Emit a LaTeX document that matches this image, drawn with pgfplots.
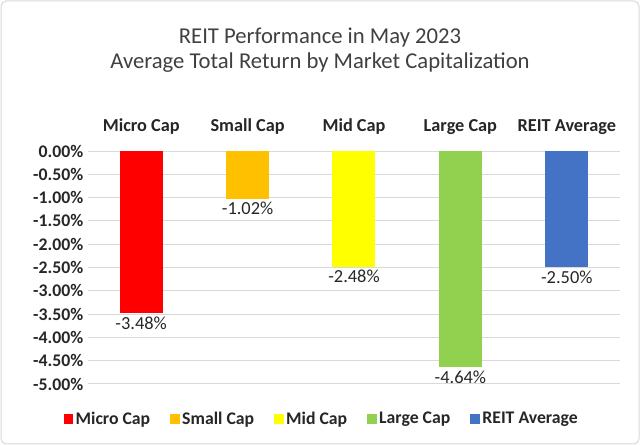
\documentclass[border=0pt]{standalone}
\usepackage{fontspec}
\setmainfont{Carlito}
\usepackage{pgfplots}
\pgfplotsset{compat=1.18}
\definecolor{txt}{HTML}{404040}
\definecolor{tick}{HTML}{262626}
\definecolor{gridc}{HTML}{D9D9D9}
\definecolor{cMicro}{HTML}{FF0000}
\definecolor{cSmall}{HTML}{FFC000}
\definecolor{cMid}{HTML}{FFFF00}
\definecolor{cLarge}{HTML}{92D050}
\definecolor{cAvg}{HTML}{4472C4}
\begin{document}
\begin{tikzpicture}[x=0.75pt,y=0.75pt]
\useasboundingbox (0,0) rectangle (640,445);
\draw[gridc,rounded corners=4pt,line width=0.75pt] (1,1) rectangle (639,444);
\node[font=\fontsize{17}{20}\selectfont,text=txt] at (320,407) {REIT Performance in May 2023};
\node[font=\fontsize{17}{20}\selectfont,text=txt] at (320,382) {Average Total Return by Market Capitalization};
\begin{axis}[
    at={(66pt,45.75pt)}, anchor=south west,
    scale only axis, width=399pt, height=174.75pt,
    xmin=-0.5, xmax=4.5, ymin=-5, ymax=0,
    ybar, bar width=32.25pt, bar shift=0pt,
    axis line style={draw=none}, major tick length=0pt,
    ymajorgrids, grid style={draw=gridc, line width=0.75pt},
    ytick={-5,-4.5,...,0},
    yticklabel={\pgfmathprintnumber[fixed,fixed zerofill,precision=2]{\tick}\%},
    /pgf/number format/assume math mode=true,
    y tick label style={font=\fontsize{13.3}{15}\selectfont\bfseries, text=tick},
    xtick={0,1,2,3,4},
    xticklabels={Micro Cap,Small Cap,Mid Cap,Large Cap,REIT Average},
    xticklabel pos=upper,
    x tick label style={font=\fontsize{13.7}{16}\selectfont\bfseries, text=tick, yshift=9pt},
    nodes near coords={\pgfmathprintnumber[fixed,fixed zerofill,precision=2]{\pgfplotspointmeta}\%},
    every node near coord/.append style={font=\fontsize{13.8}{16}\selectfont, text=tick, yshift=1pt},
    legend columns=5,
    legend style={draw=none, at={(0.44,-0.15)}, anchor=center,
      font=\fontsize{13.3}{15}\selectfont\bfseries, text=tick,
      /tikz/every even column/.append style={column sep=13pt}},
    legend image code/.code={\fill[#1] (0pt,-3.5pt) rectangle (7pt,3.5pt);},
]
\addplot[fill=cMicro, draw=none] coordinates {(0,-3.48)};
\addlegendentry{Micro Cap}
\addplot[fill=cSmall, draw=none] coordinates {(1,-1.02)};
\addlegendentry{Small Cap}
\addplot[fill=cMid, draw=none] coordinates {(2,-2.48)};
\addlegendentry{Mid Cap}
\addplot[fill=cLarge, draw=none] coordinates {(3,-4.64)};
\addlegendentry{Large Cap}
\addplot[fill=cAvg, draw=none] coordinates {(4,-2.50)};
\addlegendentry{REIT Average}
\end{axis}
\end{tikzpicture}
\end{document}
